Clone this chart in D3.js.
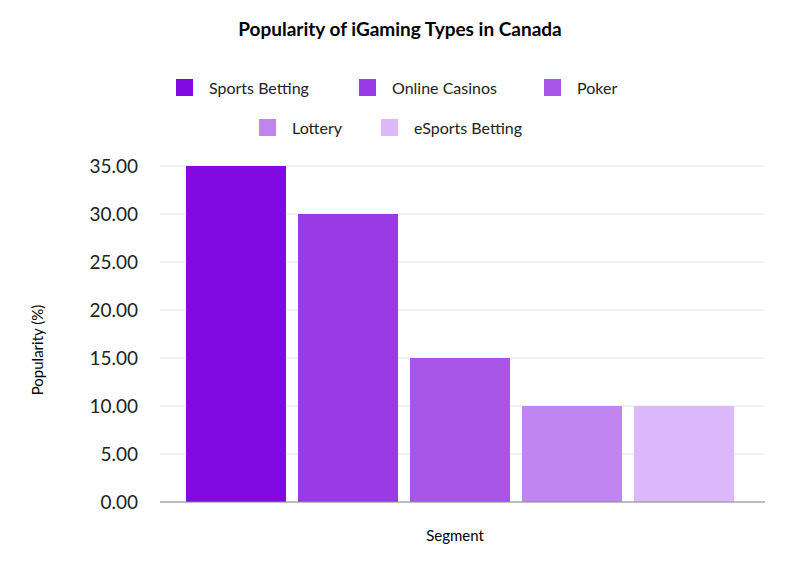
<!DOCTYPE html><html><head><script src="https://cdn.jsdelivr.net/npm/d3@7"></script>
<style>body{margin:0;background:#fff}text{font-family:Lato,"Open Sans",sans-serif}</style></head><body>
<svg id="c" width="800" height="561"></svg>
<script>
const categories=["Sports Betting","Online Casinos","Poker","Lottery","eSports Betting"];
const values=[35,30,15,10,10];
const colors=["#8309e3","#9a3ae6","#a855e7","#c085f0","#dcb8fb"];
const yTicks=[0,5,10,15,20,25,30,35];
const svg=d3.select("#c");
const x=d3.scaleBand().domain(categories).range([180,740]).paddingInner(0.1071).paddingOuter(0.0536);
const y=d3.scaleLinear().domain([0,35]).range([502,166]);
svg.append("text").attr("x",400).attr("y",36).attr("text-anchor","middle").attr("font-size",19).attr("font-weight","bold").text("Popularity of iGaming Types in Canada");
const leg=[[0,176,88],[1,359,88],[2,544,88],[3,259,128],[4,381,128]];
leg.forEach(([i,lx,ly])=>{svg.append("rect").attr("x",lx).attr("y",ly-9).attr("width",17).attr("height",17).attr("fill",colors[i]);
svg.append("text").attr("x",lx+33).attr("y",ly+6).attr("font-size",16).attr("fill","#222").text(categories[i]);});
svg.append("g").selectAll("line").data(yTicks).join("line").attr("x1",160).attr("x2",765).attr("y1",d=>y(d)).attr("y2",d=>y(d)).attr("stroke","#e6e6e6");
svg.append("g").selectAll("text").data(yTicks).join("text").attr("x",138).attr("y",d=>y(d)+7).attr("text-anchor","end").attr("font-size",19).attr("fill","#222").text(d=>d.toFixed(2));
svg.append("g").selectAll("rect").data(values).join("rect").attr("x",(d,i)=>x(categories[i])).attr("width",x.bandwidth()).attr("y",d=>y(d)).attr("height",d=>502-y(d)).attr("fill",(d,i)=>colors[i]);
svg.append("line").attr("x1",160).attr("x2",765).attr("y1",502).attr("y2",502).attr("stroke","#888");
svg.append("text").attr("x",455).attr("y",541).attr("text-anchor","middle").attr("font-size",15).text("Segment");
svg.append("text").attr("transform","translate(43,350) rotate(-90)").attr("text-anchor","middle").attr("font-size",15).text("Popularity (%)");
</script></body></html>
